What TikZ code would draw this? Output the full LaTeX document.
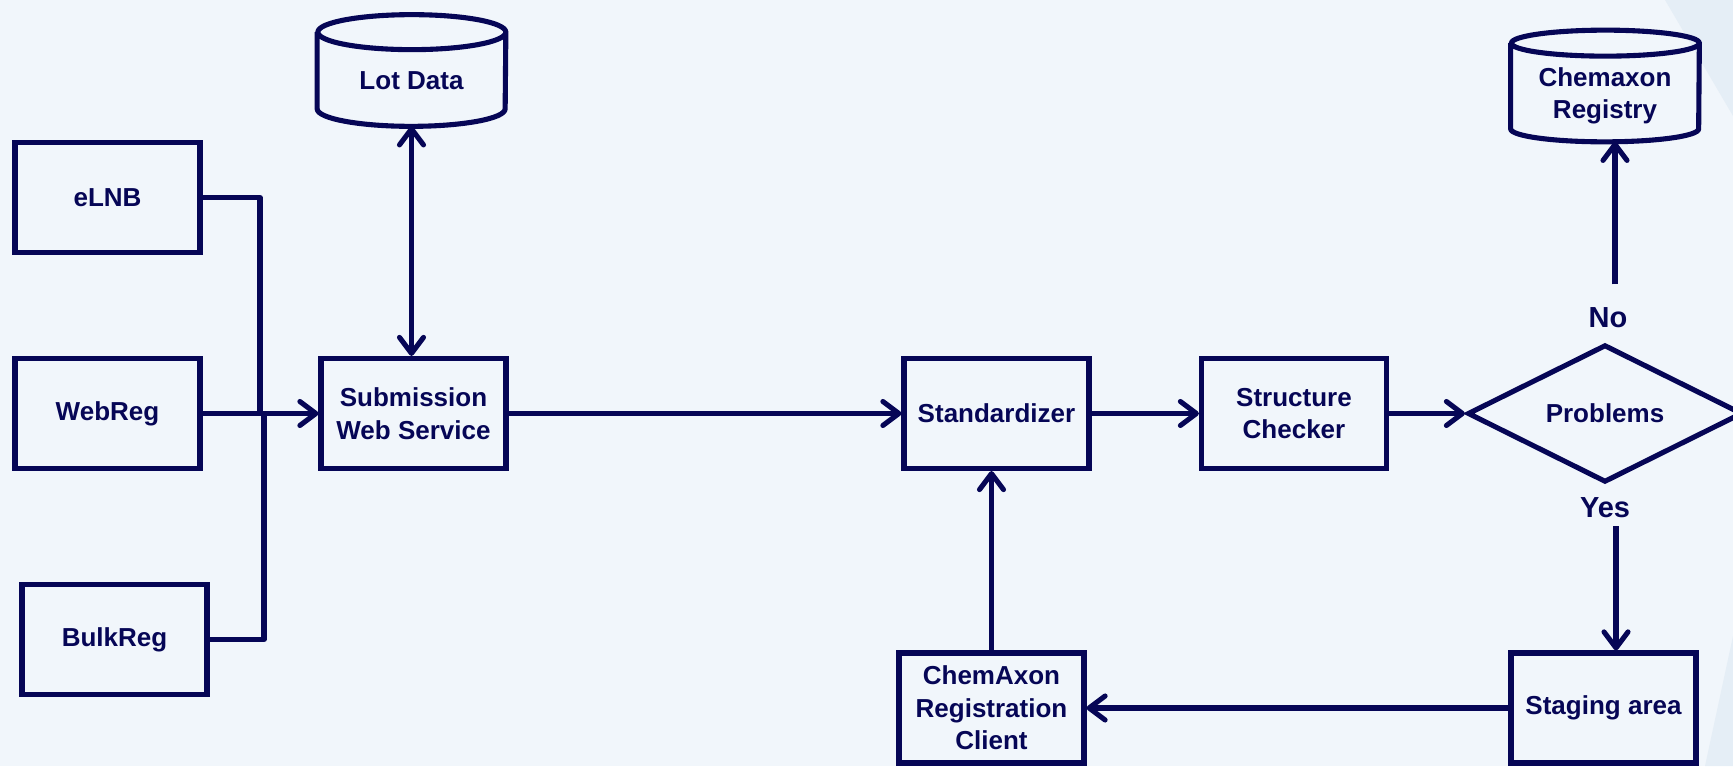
\documentclass[tikz,border=0pt]{standalone}
\usepackage{fontspec}
\setmainfont{Liberation Sans}
\usetikzlibrary{shapes.geometric,arrows.meta}
\definecolor{azulescuro}{RGB}{6,6,86}
\definecolor{fundo}{RGB}{241,246,251}
\definecolor{fundoclaro}{RGB}{229,238,246}
\tikzset{
  caixa/.style={draw=azulescuro, line width=2.9pt, text=azulescuro, align=center,
    minimum width=3.7cm, minimum height=2.2cm, inner sep=2pt,
    font=\bfseries\fontsize{14.8}{18.5}\selectfont},
  banco/.style={minimum width=3.76cm, minimum height=2.22cm, inner sep=0pt},
  decisao/.style={diamond, draw=azulescuro, line width=2.9pt, text=azulescuro,
    minimum width=5.5cm, minimum height=2.5cm, inner sep=0pt,
    font=\bfseries\fontsize{14.8}{18.5}\selectfont},
  rotulo/.style={text=azulescuro, inner sep=0pt, font=\bfseries\fontsize{16.5}{19}\selectfont},
  texto/.style={text=azulescuro, inner sep=0pt, align=center, font=\bfseries\fontsize{14.8}{18.5}\selectfont},
  ponta/.tip={Straight Barb[length=3.2mm,width=4.8mm,round]},
  seta/.style={draw=azulescuro, line width=2.9pt, -ponta},
  linha/.style={draw=azulescuro, line width=2.9pt, line join=round}
}
\begin{document}
\begin{tikzpicture}
    % Fundo
    \useasboundingbox (0,0) rectangle (34.66,15.32);
    \fill[fundo] (0,0) rectangle (34.66,15.32);
    \fill[fundoclaro] (33.3,15.32) -- (34.66,15.32) -- (34.66,13.0) -- cycle;
    \fill[fundoclaro] (34.66,2.6) -- (34.1,0) -- (34.66,0) -- cycle;

    % Entradas
    \node[caixa] (elnb) at (2.15,11.37) {eLNB};
    \node[caixa] (webreg) at (2.15,7.05) {WebReg};
    \node[caixa] (bulkreg) at (2.29,2.53) {BulkReg};

    % Servico de submissao e dados de lote
    \node[caixa] (submissao) at (8.27,7.05) {Submission\\Web Service};
    \node[banco, label={[texto, yshift=-2mm]center:Lot Data}] (lote) at (8.23,13.91) {};

    % Cadeia principal
    \node[caixa] (padronizador) at (19.93,7.05) {Standardizer};
    \node[caixa] (verificador) at (25.88,7.05) {Structure\\Checker};
    \node[decisao] (problemas) at (32.1,7.05) {Problems};
    \node[banco, label={[texto, yshift=-2mm]center:Chemaxon\\Registry}] (registro) at (32.1,13.6) {};
    \node[rotulo] (nao) at (32.16,8.965) {No};
    \node[rotulo] (sim) at (32.1,5.16) {Yes};

    % Linha de baixo
    \node[caixa] (staging) at (32.07,1.16) {Staging area};
    \node[caixa] (cliente) at (19.83,1.16) {ChemAxon\\Registration\\Client};

    % Cilindros dos bancos
    \foreach \b/\r in {lote/3.5mm, registro/2.6mm}
        \draw[linha] ([yshift=-\r]\b.north west) -- ([yshift=\r]\b.south west)
            arc[start angle=180, end angle=360, x radius=1.88cm, y radius=\r]
            -- ([yshift=-\r]\b.north east)
            arc[start angle=0, end angle=360, x radius=1.88cm, y radius=\r];

    % Juncoes das entradas
    \coordinate (juntaA) at (5.2,7.05);
    \coordinate (juntaB) at (5.28,7.05);
    \draw[linha] (elnb.east) -| (juntaA);
    \draw[linha] (bulkreg.east) -| (juntaB);
    \draw[seta] (webreg.east) -- (submissao.west);

    % Conexoes
    \draw[seta, ponta-ponta] (lote.south) -- (lote.south |- submissao.north);
    \draw[seta] (submissao.east) -- (padronizador.west);
    \draw[seta] (padronizador.east) -- (verificador.west);
    \draw[seta] (verificador.east) -- (problemas.west);
    \draw[seta] ([xshift=1.4mm, yshift=4.6mm]nao.north) -- ([xshift=1.4mm]nao.north |- registro.south);
    \draw[seta] ([xshift=2.2mm, yshift=-1.6mm]sim.south) -- ([xshift=2.2mm]sim.south |- staging.north);
    \draw[seta] (staging.west) -- (cliente.east);
    \draw[seta] (cliente.north) -- (cliente.north |- padronizador.south);

\end{tikzpicture}
\end{document}
